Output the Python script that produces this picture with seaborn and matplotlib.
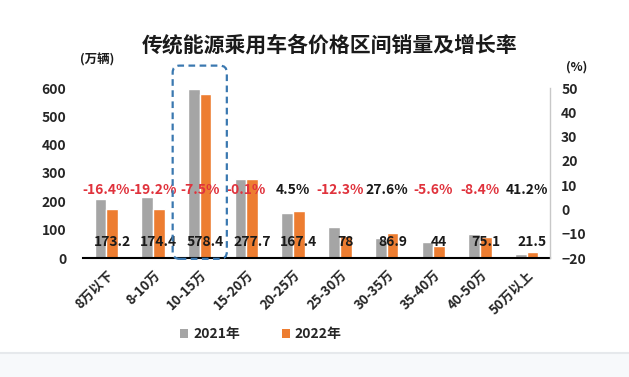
import matplotlib
matplotlib.use("Agg")
import matplotlib.pyplot as plt
import seaborn as sns
import pandas as pd
import numpy as np
from matplotlib.patches import FancyBboxPatch, Rectangle, Patch
from matplotlib.lines import Line2D

categories = ["8万以下", "8-10万", "10-15万", "15-20万", "20-25万", "25-30万", "30-35万", "35-40万", "40-50万", "50万以上"]
sales_2021 = [207, 216, 598, 280, 160, 108, 70, 58, 83, 15]
sales_2022 = [173.2, 174.4, 578.4, 277.7, 167.4, 78, 86.9, 44, 75.1, 21.5]
growth_labels = ["-16.4%", "-19.2%", "-7.5%", "-0.1%", "4.5%", "-12.3%", "27.6%", "-5.6%", "-8.4%", "41.2%"]
value_labels = ["173.2", "174.4", "578.4", "277.7", "167.4", "78", "86.9", "44", "75.1", "21.5"]
series = ["2021年", "2022年"]

sns.set_theme(style="white")
plt.rcParams['font.family'] = ['Noto Sans CJK SC', 'DejaVu Sans']

df = pd.DataFrame({
    "cat": categories * 2,
    "val": sales_2021 + sales_2022,
    "year": [series[0]] * len(categories) + [series[1]] * len(categories),
})

colors = {"2021年": "#a5a5a5", "2022年": "#ed7d31"}

fig = plt.figure(figsize=(6.29, 3.77), dpi=100)
fig.patch.set_facecolor("white")
fig.add_artist(Rectangle((0, 0), 1, 24/377, transform=fig.transFigure, color="#f7f9fb", zorder=-5))
fig.add_artist(Line2D([0, 1], [24/377, 24/377], transform=fig.transFigure, color="#e6e9ec", lw=1.5, zorder=-4))

ax = fig.add_axes([83/629, 1-258/377, (550-83)/629, (258-88)/377])
sns.barplot(data=df, x="cat", y="val", hue="year", palette=colors, width=0.5,
            ax=ax, legend=False, saturation=1)
ax.set_ylim(0, 600)
ax.set_yticks(range(0, 601, 100))
ax.set_xlim(-0.5, len(categories) - 0.5)
ax.set_xlabel("")
ax.set_ylabel("")
for s in ["left", "top", "right"]:
    ax.spines[s].set_visible(False)
ax.spines["bottom"].set_color("black")
ax.spines["bottom"].set_linewidth(1.5)
ax.tick_params(axis="both", length=0)
ax.tick_params(axis="y", pad=12)
ax.tick_params(axis="x", pad=7)
for lbl in ax.get_yticklabels():
    lbl.set_fontweight("bold")
    lbl.set_fontsize(10)
ax.set_xticks(range(len(categories)))
ax.set_xticklabels(categories, rotation=45, ha="right", rotation_mode="anchor",
                   fontsize=9.5, fontweight="heavy")

ax2 = ax.twinx()
ax2.set_ylim(-20, 50)
ax2.set_yticks(range(-20, 51, 10))
for s in ["left", "top", "bottom"]:
    ax2.spines[s].set_visible(False)
ax2.spines["right"].set_color("#c8c8c8")
ax2.spines["right"].set_linewidth(1)
ax2.tick_params(axis="y", length=0, pad=8)
for lbl in ax2.get_yticklabels():
    lbl.set_fontweight("bold")
    lbl.set_fontsize(10)

for i, (g, v) in enumerate(zip(growth_labels, value_labels)):
    col = "#e0323c" if g.startswith("-") else "#1a1a1a"
    ax.text(i, 240, g, ha="center", va="center", fontsize=10, fontweight="bold", color=col, zorder=5)
    ax.text(i + 0.125, 58, v, ha="center", va="center", fontsize=10, fontweight="bold", color="#1a1a1a", zorder=5)

# dashed highlight box around 10-15万
box = FancyBboxPatch((1.42, -3), 1.16, 682, boxstyle="round,pad=0,rounding_size=0.15",
                     mutation_aspect=165, fill=False, edgecolor="#3a78b0",
                     linestyle=(0, (3, 2)), linewidth=1.6, clip_on=False, zorder=6)
ax.add_patch(box)

fig.text(330/629, 1-45/377, "传统能源乘用车各价格区间销量及增长率", ha="center", va="center",
         fontsize=15, fontweight="bold", color="#1a1a1a")
fig.text(97/629, 1-60/377, "(万辆)", ha="center", va="center", fontsize=9, fontweight="bold", color="#1a1a1a")
fig.text(577/629, 1-67/377, "(%)", ha="center", va="center", fontsize=9, fontweight="bold", color="#1a1a1a")

handles = [Patch(facecolor=colors[s], edgecolor="none") for s in series]
leg = fig.legend(handles, series, loc="center", bbox_to_anchor=(261/629, 1-334/377), ncol=2,
                 frameon=False, handlelength=0.6, handleheight=0.6, handletextpad=0.35,
                 columnspacing=3.0, prop={"size": 10, "weight": "bold", "family": ['Noto Sans CJK SC', 'DejaVu Sans']})

fig.savefig("out.png", dpi=100)
